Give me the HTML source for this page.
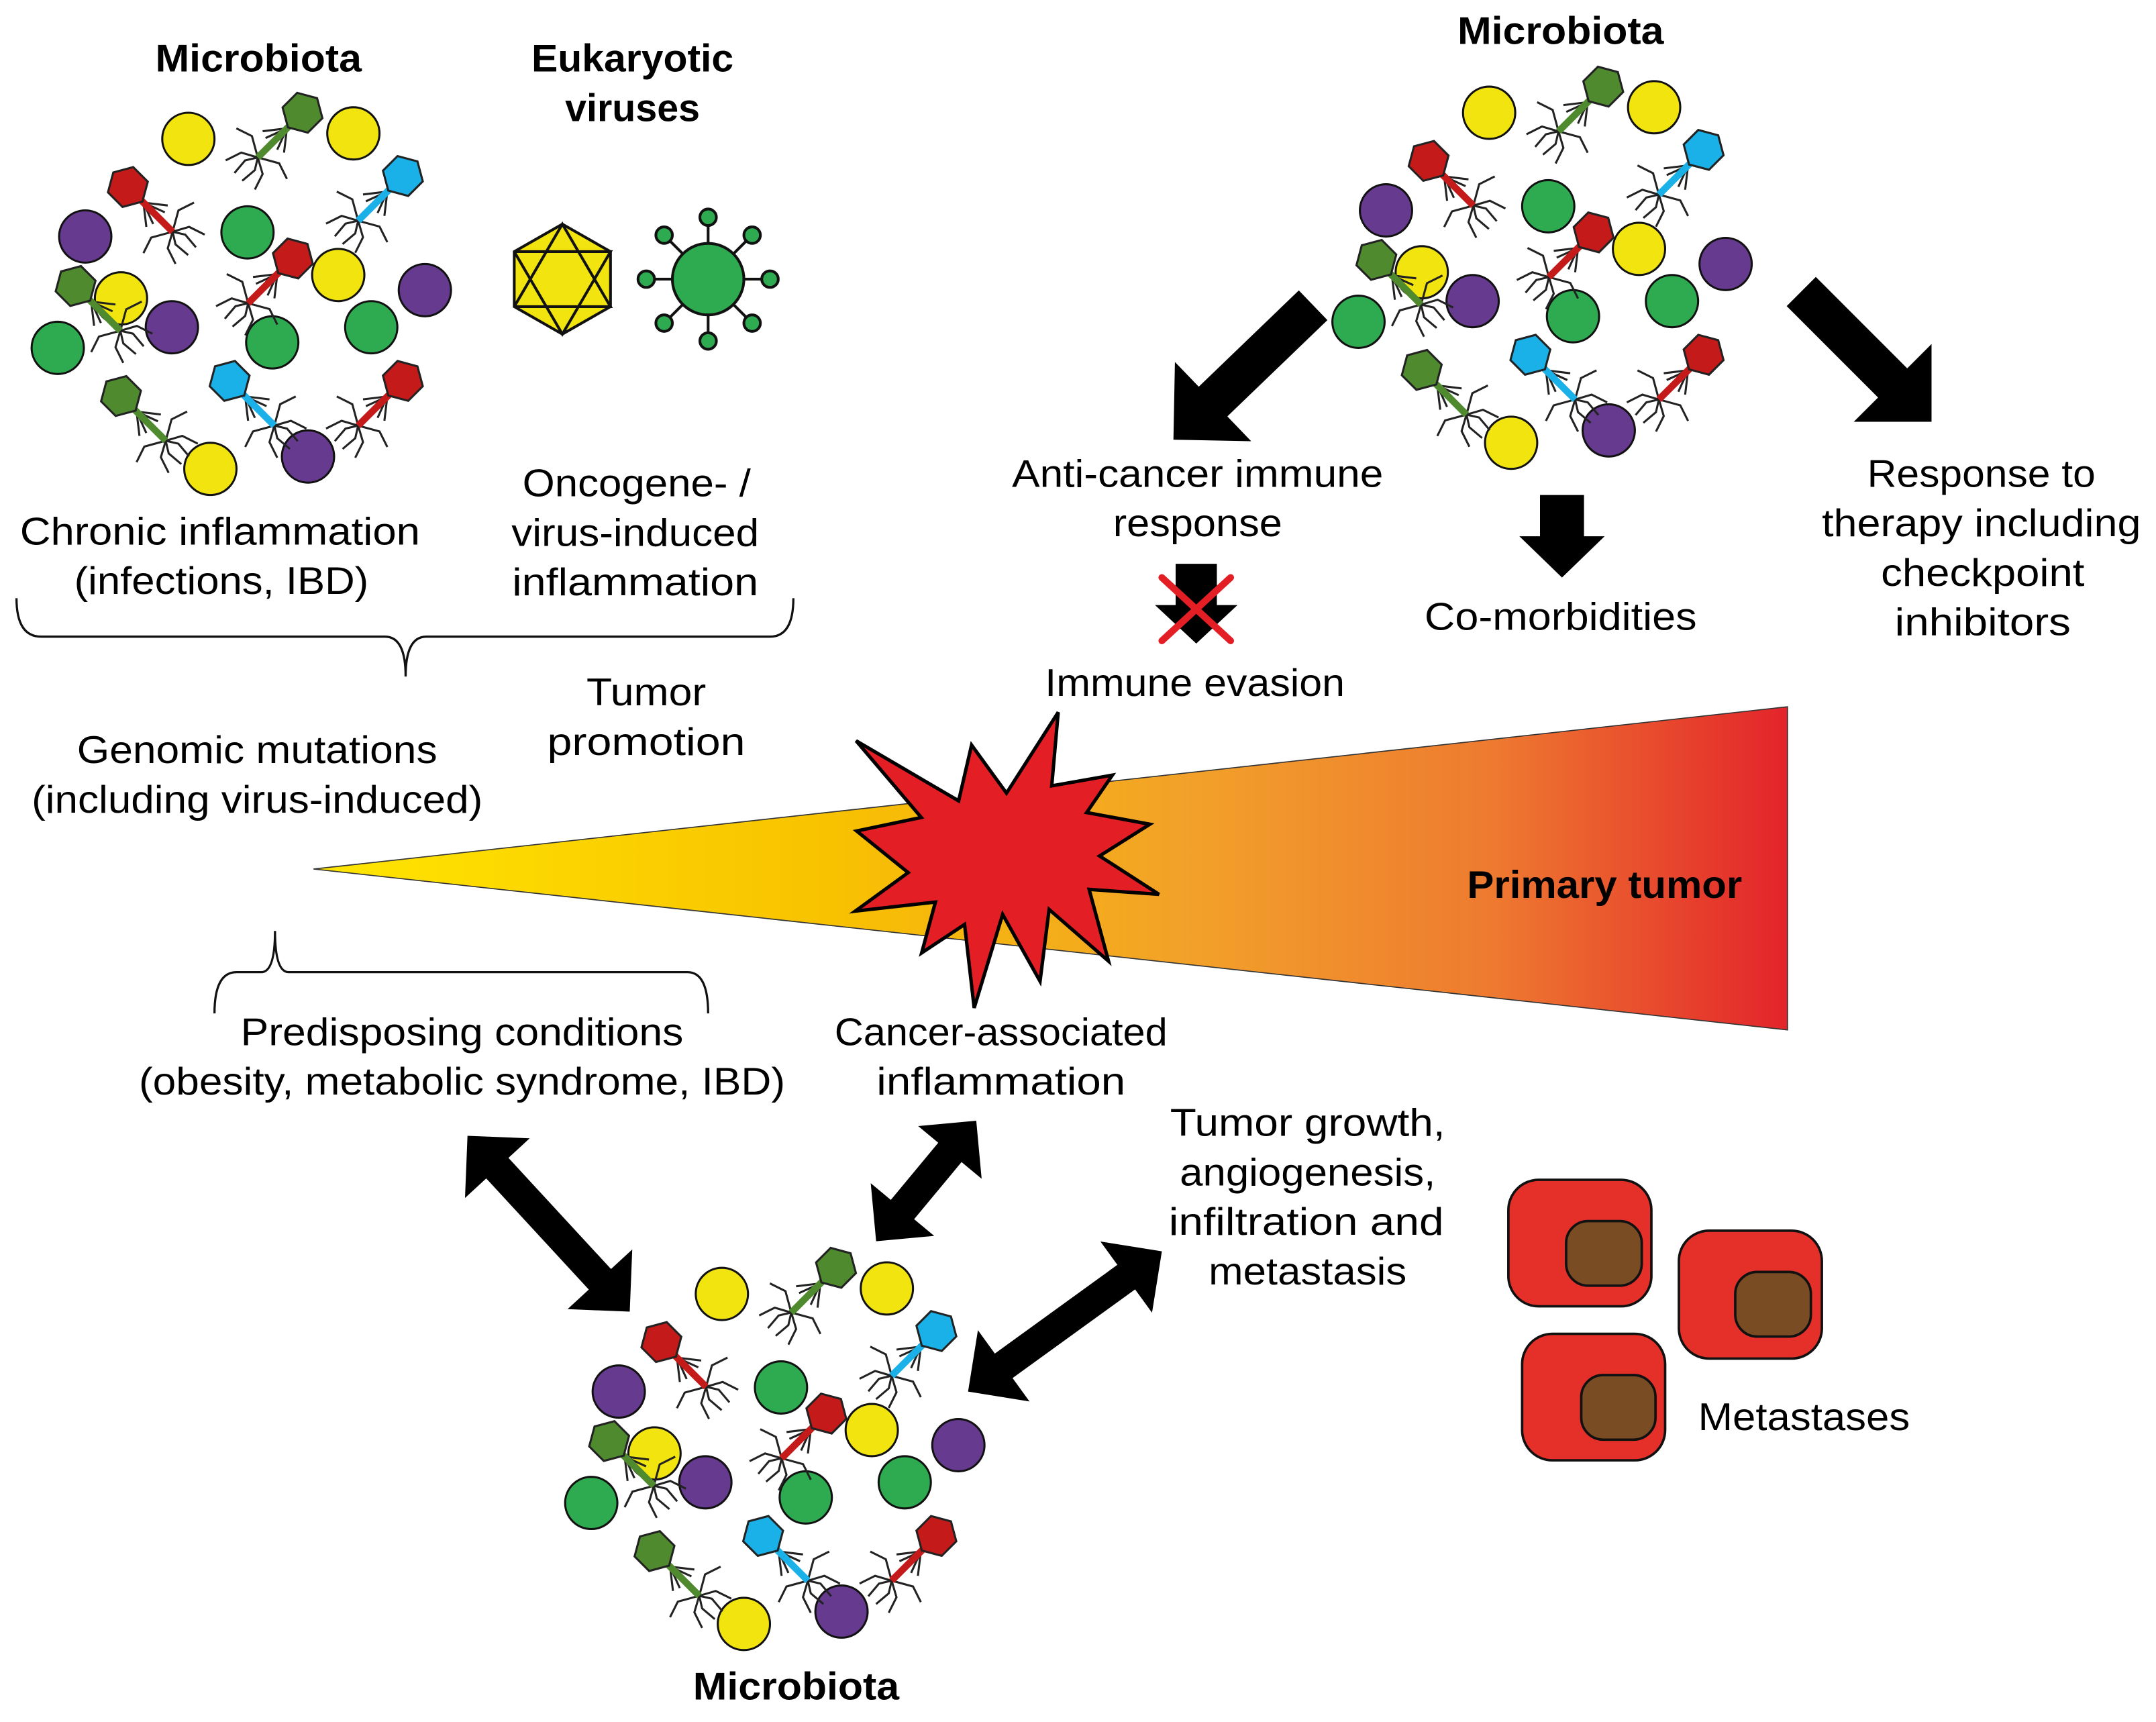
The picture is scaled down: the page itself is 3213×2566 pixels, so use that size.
<!DOCTYPE html>
<html><head><meta charset="utf-8"><style>
html,body{margin:0;padding:0;background:#fff;}
svg{display:block;}
text{font-family:"Liberation Sans","DejaVu Sans",sans-serif;font-size:28px;fill:#000;text-anchor:middle;}
.b{font-weight:bold;}
</style></head><body>
<svg width="3213" height="2566" viewBox="0 0 1568 1252.3" preserveAspectRatio="none" xmlns="http://www.w3.org/2000/svg">
<defs>
<linearGradient id="wg" x1="228" y1="0" x2="1300" y2="0" gradientUnits="userSpaceOnUse">
<stop offset="0" stop-color="#ffe600"/>
<stop offset="0.35" stop-color="#f8c200"/>
<stop offset="0.6" stop-color="#f2a02a"/>
<stop offset="0.8" stop-color="#ee7a30"/>
<stop offset="1" stop-color="#e3242b"/>
</linearGradient>
<g id="ph">
<g stroke="#222" stroke-width="1.5" fill="none">
<line x1="0" y1="16" x2="-11" y2="30"/><line x1="0" y1="16" x2="-6" y2="32"/><line x1="0" y1="16" x2="11" y2="30"/><line x1="0" y1="16" x2="6" y2="32"/>
<polyline points="0,46 -14,38 -26,42"/><polyline points="0,46 -11,52 -15,64"/><polyline points="0,46 -5,54 -4,66"/>
<polyline points="0,46 14,38 26,42"/><polyline points="0,46 11,52 15,64"/><polyline points="0,46 5,54 4,66"/>
</g>
</g>
<g id="cl">
<g stroke="#111" stroke-width="1.5">
<circle cx="137" cy="101" r="19" fill="#f2e50f"/><circle cx="257" cy="97" r="19" fill="#f2e50f"/>
<circle cx="62" cy="172" r="19" fill="#663a8f"/><circle cx="180" cy="169" r="19" fill="#2eaa50"/>
<circle cx="246" cy="200" r="19" fill="#f2e50f"/><circle cx="309" cy="211" r="19" fill="#663a8f"/>
<circle cx="88" cy="217" r="19" fill="#f2e50f"/><circle cx="125" cy="238" r="19" fill="#663a8f"/>
<circle cx="42" cy="253" r="19" fill="#2eaa50"/><circle cx="198" cy="249" r="19" fill="#2eaa50"/>
<circle cx="270" cy="238" r="19" fill="#2eaa50"/><circle cx="153" cy="341" r="19" fill="#f2e50f"/>
<circle cx="224" cy="332" r="19" fill="#663a8f"/>
</g>
<g transform="translate(220,82) rotate(45)"><use href="#ph"/><line x1="0" y1="10" x2="0" y2="46" stroke="#4f8a2e" stroke-width="5"/><polygon points="0,-15 13,-7.5 13,7.5 0,15 -13,7.5 -13,-7.5" fill="#4f8a2e" stroke="#222" stroke-width="1.5"/></g>
<g transform="translate(93,136) rotate(-45)"><use href="#ph"/><line x1="0" y1="10" x2="0" y2="46" stroke="#c41a1a" stroke-width="5"/><polygon points="0,-15 13,-7.5 13,7.5 0,15 -13,7.5 -13,-7.5" fill="#c41a1a" stroke="#222" stroke-width="1.5"/></g>
<g transform="translate(293,128) rotate(45)"><use href="#ph"/><line x1="0" y1="10" x2="0" y2="46" stroke="#1ab0e8" stroke-width="5"/><polygon points="0,-15 13,-7.5 13,7.5 0,15 -13,7.5 -13,-7.5" fill="#1ab0e8" stroke="#222" stroke-width="1.5"/></g>
<g transform="translate(213,188) rotate(45)"><use href="#ph"/><line x1="0" y1="10" x2="0" y2="46" stroke="#c41a1a" stroke-width="5"/><polygon points="0,-15 13,-7.5 13,7.5 0,15 -13,7.5 -13,-7.5" fill="#c41a1a" stroke="#222" stroke-width="1.5"/></g>
<g transform="translate(55,208) rotate(-45)"><use href="#ph"/><line x1="0" y1="10" x2="0" y2="46" stroke="#4f8a2e" stroke-width="5"/><polygon points="0,-15 13,-7.5 13,7.5 0,15 -13,7.5 -13,-7.5" fill="#4f8a2e" stroke="#222" stroke-width="1.5"/></g>
<g transform="translate(88,288) rotate(-45)"><use href="#ph"/><line x1="0" y1="10" x2="0" y2="46" stroke="#4f8a2e" stroke-width="5"/><polygon points="0,-15 13,-7.5 13,7.5 0,15 -13,7.5 -13,-7.5" fill="#4f8a2e" stroke="#222" stroke-width="1.5"/></g>
<g transform="translate(167,277) rotate(-45)"><use href="#ph"/><line x1="0" y1="10" x2="0" y2="46" stroke="#1ab0e8" stroke-width="5"/><polygon points="0,-15 13,-7.5 13,7.5 0,15 -13,7.5 -13,-7.5" fill="#1ab0e8" stroke="#222" stroke-width="1.5"/></g>
<g transform="translate(293,277) rotate(45)"><use href="#ph"/><line x1="0" y1="10" x2="0" y2="46" stroke="#c41a1a" stroke-width="5"/><polygon points="0,-15 13,-7.5 13,7.5 0,15 -13,7.5 -13,-7.5" fill="#c41a1a" stroke="#222" stroke-width="1.5"/></g>
</g>
</defs>

<use href="#cl"/>
<use href="#cl" transform="translate(946,-19)"/>
<use href="#cl" transform="translate(388,840)"/>

<!-- eukaryotic viruses -->
<g stroke="#111" stroke-width="2" fill="#f2e50f">
<polygon points="409,163 444,183 444,223 409,243 374,223 374,183"/>
<polyline fill="none" points="374,183 444,183 409,243 374,183"/>
<polyline fill="none" points="374,223 444,223 409,163 374,223"/>
</g>
<g stroke="#111" stroke-width="2" fill="#2eaa50">
<line x1="515" y1="158" x2="515" y2="248"/><line x1="470" y1="203" x2="560" y2="203"/>
<line x1="483" y1="171" x2="547" y2="235"/><line x1="547" y1="171" x2="483" y2="235"/>
<circle cx="515" cy="203" r="26"/>
<circle cx="515" cy="158" r="6"/><circle cx="515" cy="248" r="6"/><circle cx="470" cy="203" r="6"/><circle cx="560" cy="203" r="6"/>
<circle cx="483" cy="171" r="6"/><circle cx="547" cy="171" r="6"/><circle cx="483" cy="235" r="6"/><circle cx="547" cy="235" r="6"/>
</g>

<!-- braces -->
<path d="M12,435 Q12,463 30,463 L280,463 Q295,463 295,492 Q295,463 310,463 L560,463 Q577,463 577,435" fill="none" stroke="#111" stroke-width="1.6"/>
<path d="M156,737 Q156,707 172,707 L190,707 Q200,707 200,677 Q200,707 210,707 L500,707 Q515,707 515,737" fill="none" stroke="#111" stroke-width="1.6"/>

<!-- wedge -->
<polygon points="228,632 1300,514 1300,749" fill="url(#wg)" stroke="#333" stroke-width="0.8"/>
<polygon points="622.6,538.7 697.2,582.4 706.6,541.8 732,576.8 769.6,518 764.9,571.5 809,563.7 790.3,590.9 836.3,599.4 799.7,622.5 842.9,650.4 792.1,646.8 806.2,699 763,661.4 756.4,713.6 729.2,665 708.5,733 701.5,672.3 670.3,693 680.3,656 622,662.6 660.5,634.6 623,604.3 670,594.5" fill="#e31e24" stroke="#000" stroke-width="2.5" stroke-linejoin="miter"/>

<!-- single arrows -->
<g fill="#000">
<path transform="translate(955,222) rotate(136.1)" d="M0,-15 L101,-15 L101,-40 L141,0 L101,40 L101,15 L0,15 Z"/>
<path transform="translate(1310,212) rotate(45)" d="M0,-15 L94,-15 L94,-40 L134,0 L94,40 L94,15 L0,15 Z"/>
<path d="M1120,360 L1152,360 L1152,390 L1167,390 L1136,420 L1105,390 L1120,390 Z"/>
<path d="M855,410 L885,410 L885,440 L900,440 L870,468 L840,440 L855,440 Z"/>
<path transform="translate(340,826) rotate(47.3)" d="M0,0 L32,-32 L32,-11 L142,-11 L142,-32 L174,0 L142,32 L142,11 L32,11 L32,32 Z"/>
<path transform="translate(710,815) rotate(129.7)" d="M0,0 L30,-30 L30,-11 L84,-11 L84,-30 L114,0 L84,30 L84,11 L30,11 L30,30 Z"/>
<path transform="translate(845,910) rotate(144.1)" d="M0,0 L32,-32 L32,-11 L142,-11 L142,-32 L174,0 L142,32 L142,11 L32,11 L32,32 Z"/>
</g>
<g stroke="#e31e24" stroke-width="5" stroke-linecap="round">
<line x1="845" y1="420" x2="895" y2="466"/><line x1="895" y1="420" x2="845" y2="466"/>
</g>

<!-- metastases -->
<g stroke="#111" stroke-width="1.8">
<rect x="1097" y="858" width="104" height="92" rx="22" fill="#e5302a"/>
<rect x="1139" y="888" width="55" height="47" rx="16" fill="#7a4c23"/>
<rect x="1221" y="895" width="104" height="93" rx="22" fill="#e5302a"/>
<rect x="1262" y="925" width="55" height="47" rx="16" fill="#7a4c23"/>
<rect x="1107" y="970" width="104" height="92" rx="22" fill="#e5302a"/>
<rect x="1150" y="1000" width="54" height="47" rx="16" fill="#7a4c23"/>
</g>

<!-- text -->
<g lengthAdjust="spacingAndGlyphs">
<text class="b" x="188" y="52" textLength="150" lengthAdjust="spacingAndGlyphs">Microbiota</text>
<text class="b" x="460" y="52" textLength="147" lengthAdjust="spacingAndGlyphs">Eukaryotic</text>
<text class="b" x="460" y="88" textLength="98" lengthAdjust="spacingAndGlyphs">viruses</text>
<text class="b" x="1135" y="32" textLength="150" lengthAdjust="spacingAndGlyphs">Microbiota</text>
<text class="b" x="579" y="1236" textLength="150" lengthAdjust="spacingAndGlyphs">Microbiota</text>
<text x="160" y="396" textLength="291" lengthAdjust="spacingAndGlyphs">Chronic inflammation</text>
<text x="161" y="432" textLength="214" lengthAdjust="spacingAndGlyphs">(infections, IBD)</text>
<text x="463" y="361" textLength="166" lengthAdjust="spacingAndGlyphs">Oncogene- /</text>
<text x="462" y="397" textLength="180" lengthAdjust="spacingAndGlyphs">virus-induced</text>
<text x="462" y="433" textLength="179" lengthAdjust="spacingAndGlyphs">inflammation</text>
<text x="871" y="354" textLength="270" lengthAdjust="spacingAndGlyphs">Anti-cancer immune</text>
<text x="871" y="390" textLength="123" lengthAdjust="spacingAndGlyphs">response</text>
<text x="1441" y="354" textLength="166" lengthAdjust="spacingAndGlyphs">Response to</text>
<text x="1441" y="390" textLength="232" lengthAdjust="spacingAndGlyphs">therapy including</text>
<text x="1442" y="426" textLength="148" lengthAdjust="spacingAndGlyphs">checkpoint</text>
<text x="1442" y="462" textLength="128" lengthAdjust="spacingAndGlyphs">inhibitors</text>
<text x="1135" y="458" textLength="198" lengthAdjust="spacingAndGlyphs">Co-morbidities</text>
<text x="869" y="506" textLength="218" lengthAdjust="spacingAndGlyphs">Immune evasion</text>
<text x="470" y="513" textLength="87" lengthAdjust="spacingAndGlyphs">Tumor</text>
<text x="470" y="549" textLength="144" lengthAdjust="spacingAndGlyphs">promotion</text>
<text x="187" y="555" textLength="262" lengthAdjust="spacingAndGlyphs">Genomic mutations</text>
<text x="187" y="591" textLength="328" lengthAdjust="spacingAndGlyphs">(including virus-induced)</text>
<text class="b" x="1167" y="653" textLength="200" lengthAdjust="spacingAndGlyphs">Primary tumor</text>
<text x="336" y="760" textLength="322" lengthAdjust="spacingAndGlyphs">Predisposing conditions</text>
<text x="336" y="796" textLength="470" lengthAdjust="spacingAndGlyphs">(obesity, metabolic syndrome, IBD)</text>
<text x="728" y="760" textLength="242" lengthAdjust="spacingAndGlyphs">Cancer-associated</text>
<text x="728" y="796" textLength="181" lengthAdjust="spacingAndGlyphs">inflammation</text>
<text x="951" y="826" textLength="200" lengthAdjust="spacingAndGlyphs">Tumor growth,</text>
<text x="951" y="862" textLength="186" lengthAdjust="spacingAndGlyphs">angiogenesis,</text>
<text x="950" y="898" textLength="200" lengthAdjust="spacingAndGlyphs">infiltration and</text>
<text x="951" y="934" textLength="144" lengthAdjust="spacingAndGlyphs">metastasis</text>
<text x="1312" y="1040" textLength="154" lengthAdjust="spacingAndGlyphs">Metastases</text>
</g>
</svg>
</body></html>
